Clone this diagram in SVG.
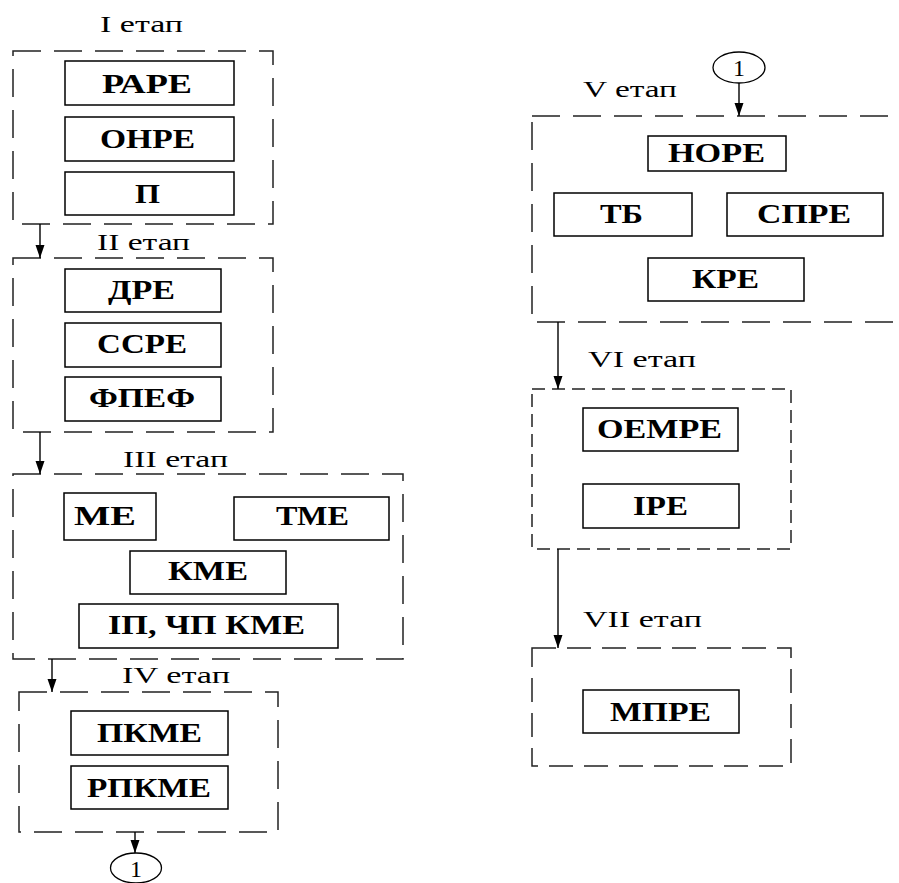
<svg xmlns="http://www.w3.org/2000/svg" width="899" height="883" viewBox="0 0 899 883">
<style>
.stage{fill:none;stroke:#222;stroke-width:1.5;stroke-dasharray:28 13}
.fine{stroke-dasharray:13 7}
.mid{stroke-dasharray:24 11}
.box{fill:#fff;stroke:#000;stroke-width:1.5}
.lbl{font-family:"Liberation Serif","DejaVu Serif",serif;font-size:23px;fill:#000}
.bt{font-family:"Liberation Serif","DejaVu Serif",serif;font-size:27px;font-weight:bold;fill:#000}
.num{font-family:"Liberation Serif","DejaVu Serif",serif;font-size:24px;fill:#000;text-anchor:middle}
.con{fill:none;stroke:#000;stroke-width:1.4;marker-end:url(#arr)}
.circ{fill:#fff;stroke:#000;stroke-width:1.3}
</style>
<defs>
<marker id="arr" markerUnits="userSpaceOnUse" markerWidth="13" markerHeight="10" refX="13" refY="5" orient="auto">
<path d="M0,0.5 L13,5 L0,9.5 z" fill="#000"/>
</marker>
</defs>
<rect width="899" height="883" fill="#fff"/>

<g id="stage1">
<rect class="stage" x="13" y="51" width="260" height="173"/>
<text class="lbl" x="100" y="32" textLength="83" lengthAdjust="spacingAndGlyphs">I етап</text>
</g>
<g id="stage2">
<rect class="stage" x="13" y="258" width="260" height="174"/>
<text class="lbl" x="97" y="250" textLength="93" lengthAdjust="spacingAndGlyphs">II етап</text>
</g>
<g id="stage3">
<rect class="stage" x="13" y="474" width="390" height="185"/>
<text class="lbl" x="123" y="467" textLength="105" lengthAdjust="spacingAndGlyphs">III етап</text>
</g>
<g id="stage4">
<rect class="stage" x="19" y="692" width="259" height="140"/>
<text class="lbl" x="122" y="683" textLength="108" lengthAdjust="spacingAndGlyphs">IV етап</text>
</g>
<g id="stage5">
<rect class="stage" x="532" y="116" width="385" height="206"/>
<text class="lbl" x="583" y="97" textLength="94" lengthAdjust="spacingAndGlyphs">V етап</text>
</g>
<g id="stage6">
<rect class="stage fine" x="532" y="389" width="259" height="160"/>
<text class="lbl" x="588" y="367" textLength="108" lengthAdjust="spacingAndGlyphs">VI етап</text>
</g>
<g id="stage7">
<rect class="stage mid" x="532" y="648" width="259" height="118"/>
<text class="lbl" x="583" y="627" textLength="119" lengthAdjust="spacingAndGlyphs">VII етап</text>
</g>

<g id="n-rare"><rect class="box" x="65" y="61" width="169" height="44"/><text class="bt" x="102" y="93" textLength="90" lengthAdjust="spacingAndGlyphs">РАРЕ</text></g>
<g id="n-onre"><rect class="box" x="65" y="117" width="169" height="44"/><text class="bt" x="100" y="148" textLength="95" lengthAdjust="spacingAndGlyphs">ОНРЕ</text></g>
<g id="n-p"><rect class="box" x="65" y="172" width="169" height="43"/><text class="bt" x="135" y="203" textLength="25" lengthAdjust="spacingAndGlyphs">П</text></g>

<g id="n-dre"><rect class="box" x="65" y="269" width="156" height="43"/><text class="bt" x="108" y="299" textLength="67" lengthAdjust="spacingAndGlyphs">ДРЕ</text></g>
<g id="n-ssre"><rect class="box" x="65" y="323" width="156" height="44"/><text class="bt" x="97" y="353" textLength="90" lengthAdjust="spacingAndGlyphs">ССРЕ</text></g>
<g id="n-fpef"><rect class="box" x="65" y="377" width="156" height="44"/><text class="bt" x="89" y="407" textLength="106" lengthAdjust="spacingAndGlyphs">ФПЕФ</text></g>

<g id="n-me"><rect class="box" x="64" y="493" width="92" height="47"/><text class="bt" x="74" y="525" textLength="62" lengthAdjust="spacingAndGlyphs">МЕ</text></g>
<g id="n-tme"><rect class="box" x="234" y="497" width="155" height="43"/><text class="bt" x="276" y="525" textLength="73" lengthAdjust="spacingAndGlyphs">ТМЕ</text></g>
<g id="n-kme"><rect class="box" x="130" y="551" width="156" height="43"/><text class="bt" x="168" y="580" textLength="80" lengthAdjust="spacingAndGlyphs">КМЕ</text></g>
<g id="n-ip"><rect class="box" x="79" y="604" width="259" height="44"/><text class="bt" x="108" y="634" textLength="197" lengthAdjust="spacingAndGlyphs">ІП, ЧП КМЕ</text></g>

<g id="n-pkme"><rect class="box" x="71" y="711" width="157" height="44"/><text class="bt" x="97" y="742" textLength="105" lengthAdjust="spacingAndGlyphs">ПКМЕ</text></g>
<g id="n-rpkme"><rect class="box" x="71" y="766" width="157" height="43"/><text class="bt" x="87" y="797" textLength="124" lengthAdjust="spacingAndGlyphs">РПКМЕ</text></g>

<g id="n-nore"><rect class="box" x="648" y="136" width="138" height="35"/><text class="bt" x="668" y="162" textLength="97" lengthAdjust="spacingAndGlyphs">НОРЕ</text></g>
<g id="n-tb"><rect class="box" x="554" y="193" width="138" height="43"/><text class="bt" x="600" y="223" textLength="43" lengthAdjust="spacingAndGlyphs">ТБ</text></g>
<g id="n-spre"><rect class="box" x="727" y="193" width="156" height="43"/><text class="bt" x="757" y="223" textLength="94" lengthAdjust="spacingAndGlyphs">СПРЕ</text></g>
<g id="n-kre"><rect class="box" x="648" y="258" width="156" height="43"/><text class="bt" x="692" y="288" textLength="67" lengthAdjust="spacingAndGlyphs">КРЕ</text></g>

<g id="n-oempre"><rect class="box" x="583" y="408" width="155" height="43"/><text class="bt" x="597" y="438" textLength="125" lengthAdjust="spacingAndGlyphs">ОЕМРЕ</text></g>
<g id="n-ire"><rect class="box" x="583" y="484" width="156" height="44"/><text class="bt" x="633" y="515" textLength="55" lengthAdjust="spacingAndGlyphs">ІРЕ</text></g>

<g id="n-mpre"><rect class="box" x="583" y="690" width="156" height="43"/><text class="bt" x="610" y="721" textLength="101" lengthAdjust="spacingAndGlyphs">МПРЕ</text></g>

<g id="c-bottom"><ellipse class="circ" cx="136" cy="868" rx="25.5" ry="15"/><text class="num" x="136" y="877">1</text></g>
<g id="c-top"><ellipse class="circ" cx="739" cy="67.5" rx="26" ry="15.5"/><text class="num" x="739" y="76">1</text></g>

<g id="connectors">
<line class="con" x1="40" y1="224" x2="40" y2="258"/>
<line class="con" x1="40" y1="432" x2="40" y2="474"/>
<line class="con" x1="52" y1="659" x2="52" y2="692"/>
<line class="con" x1="135" y1="832" x2="135" y2="853"/>
<line class="con" x1="739" y1="83" x2="739" y2="116"/>
<line class="con" x1="558" y1="322" x2="558" y2="389"/>
<line class="con" x1="558" y1="549" x2="558" y2="648"/>
</g>
</svg>
